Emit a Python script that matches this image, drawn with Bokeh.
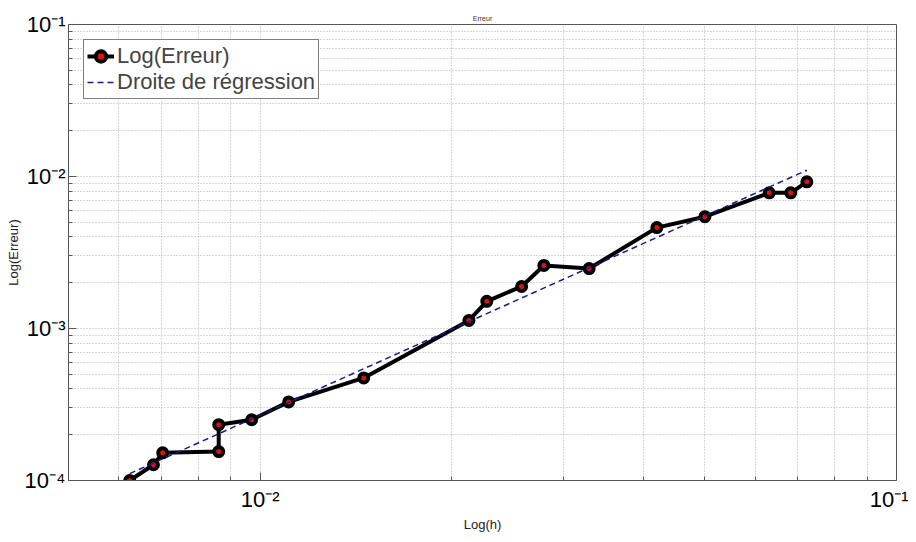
import math
from bokeh.plotting import figure
from bokeh.models import (FixedTicker, CustomJSTickFormatter, Legend)
from bokeh.embed import file_html
from bokeh.resources import INLINE

# ---- data ----
h = [0.00624, 0.00680, 0.00703, 0.00861, 0.00861, 0.00970, 0.01109, 0.01455,
     0.02129, 0.02271, 0.02576, 0.02792, 0.03289, 0.04202, 0.0500, 0.0631,
     0.0682, 0.0723]
err = [1.00e-4, 1.27e-4, 1.52e-4, 1.55e-4, 2.33e-4, 2.51e-4, 3.29e-4, 4.73e-4,
       1.13e-3, 1.51e-3, 1.89e-3, 2.60e-3, 2.48e-3, 4.61e-3, 5.44e-3, 7.81e-3,
       7.81e-3, 9.22e-3]
reg_h = [0.00624, 0.0723]
reg_err = [1.11e-4, 1.10e-2]

x_major = [1e-2, 1e-1]
y_major = [1e-4, 1e-3, 1e-2, 1e-1]
x_range = (0.005, 0.1)
y_range = (1e-4, 1e-1)

def minors(lo_exp, hi_exp):
    out = []
    for e in range(lo_exp, hi_exp):
        for m in range(2, 10):
            out.append(m * 10.0 ** e)
    return out

x_minor = minors(-3, -1)
y_minor = minors(-4, -1)

p = figure(width=908, height=534, x_axis_type="log", y_axis_type="log",
           x_range=x_range, y_range=y_range, output_backend="svg",
           toolbar_location=None, min_border_left=68, min_border_right=12,
           min_border_top=24, min_border_bottom=52)
p.background_fill_color = "white"
p.border_fill_color = "white"
p.outline_line_color = "#555555"
p.outline_line_width = 1

p.title.text = "Erreur"
p.title.align = "center"
p.title.text_font_size = "7px"
p.title.text_font_style = "normal"
p.title.text_color = "#333333"
p.title.text_font = "Liberation Sans"
p.title.standoff = 6
p.title.offset = 0

fmt_code = """
const e = Math.round(Math.log10(tick));
const sup = {'-':'\u207b','0':'\u2070','1':'\u00b9','2':'\u00b2','3':'\u00b3','4':'\u2074','5':'\u2075','6':'\u2076','7':'\u2077','8':'\u2078','9':'\u2079'};
return '10' + String(e).split('').map(c => sup[c]).join('');
"""

xt = FixedTicker(ticks=x_major, minor_ticks=x_minor)
yt = FixedTicker(ticks=y_major, minor_ticks=y_minor)

for ax, t in ((p.xaxis[0], xt), (p.yaxis[0], yt)):
    ax.ticker = t
    ax.formatter = CustomJSTickFormatter(code=fmt_code)
    ax.major_label_text_font = "Liberation Sans"
    ax.major_label_text_font_size = "22px"
    ax.major_label_text_color = "black"
    ax.axis_line_color = "#555555"
    ax.major_tick_line_color = "#555555"
    ax.minor_tick_line_color = "#555555"
    ax.major_tick_in = 8
    ax.major_tick_out = 0
    ax.minor_tick_in = 4
    ax.minor_tick_out = 0
    ax.axis_label_text_font = "Liberation Sans"
    ax.axis_label_text_font_size = "13px"
    ax.axis_label_text_font_style = "normal"
    ax.axis_label_text_color = "#222222"

p.xaxis.axis_label = "Log(h)"
p.yaxis.axis_label = "Log(Erreur)"
p.xaxis.major_label_standoff = 6
p.xaxis.axis_label_standoff = 2
p.yaxis.major_label_standoff = 3
p.yaxis.axis_label_standoff = 1

for g in p.grid:
    g.grid_line_color = "#b0b0b0"
    g.grid_line_dash = "1 2"
    g.grid_line_width = 1
    g.minor_grid_line_color = "#b0b0b0"
    g.minor_grid_line_dash = "1 2"
    g.minor_grid_line_width = 1
p.xgrid.ticker = xt
p.ygrid.ticker = yt

r_line = p.line(h, err, line_color="black", line_width=4)
r_pts = p.scatter(h, err, marker="circle", size=9, fill_color="#e01010",
                  line_color="black", line_width=4)
r_reg = p.line(reg_h, reg_err, line_color="#1a1a8c", line_width=1.5,
               line_dash="6 4")

legend = Legend(items=[("Log(Erreur)", [r_line, r_pts]),
                       ("Droite de r\u00e9gression", [r_reg])],
                location="top_left")
legend.margin = 15
legend.padding = 3
legend.spacing = 0
legend.label_text_font = "Liberation Sans"
legend.label_text_font_size = "22px"
legend.label_height = 26
legend.glyph_height = 26
legend.glyph_width = 27
legend.label_standoff = 3
legend.border_line_color = "black"
legend.border_line_width = 1
legend.background_fill_alpha = 1
p.add_layout(legend, "center")

open("out.html", "w").write(file_html(p, INLINE))
